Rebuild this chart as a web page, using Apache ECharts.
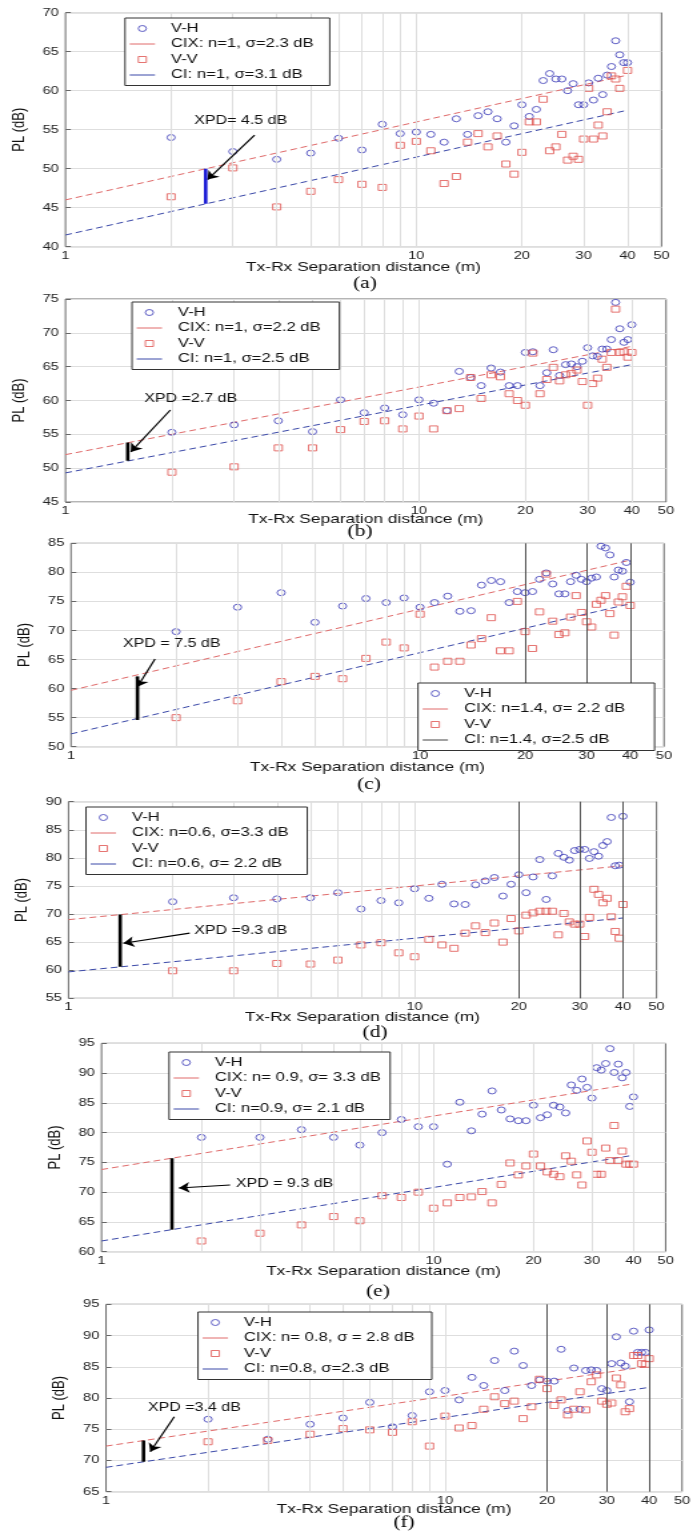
<!DOCTYPE html>
<html><head><meta charset="utf-8">
<script src="https://cdn.jsdelivr.net/npm/echarts@6/dist/echarts.min.js"></script>
<style>
html,body{margin:0;padding:0;background:#fff;overflow:hidden;}
#wrap{width:693px;height:1536px;overflow:hidden;position:relative;background:#fff;}
#chart{width:520px;height:1536px;transform:scaleX(1.3326923);transform-origin:0 0;}
</style></head><body><div id="wrap"><div id="chart"></div></div>
<script>
// ---------- data ----------
const distances = [2,3,4,5,6,7,8,9,10,11,12,13,14,15,16,17,18,19,20,21,22,23,24,25,26,27,28,29,30,31,32,33,34,35,36,37,38,39,40];
const vhA = [54.0,52.2,51.2,52.0,53.9,52.4,55.7,54.5,54.7,54.4,53.4,56.4,54.4,56.8,57.3,56.4,53.4,55.5,58.2,56.7,57.6,61.3,62.2,61.5,61.5,60.0,60.9,58.2,58.2,61.0,58.8,61.6,59.5,62.0,63.1,66.4,64.6,63.6,63.6];
const vvA = [46.4,50.1,45.1,47.1,48.6,48.0,47.6,53.0,53.5,52.3,48.1,49.0,53.4,54.5,52.8,54.2,50.6,49.3,52.1,56.0,56.0,58.9,52.3,52.8,54.4,51.1,51.6,51.2,53.8,60.3,53.8,55.6,54.2,57.3,61.9,61.5,60.3,null,62.6];
const vhB = [55.3,56.4,57.0,55.4,60.1,58.2,58.9,57.9,60.1,59.6,58.5,64.3,63.4,62.2,64.8,64.2,62.2,62.2,67.1,67.2,62.2,64.1,67.5,63.7,65.3,65.4,65.0,65.8,67.8,66.6,66.5,67.6,67.6,69.0,74.5,70.6,68.6,69.0,71.2];
const vvB = [49.4,50.2,53.0,53.0,55.7,56.9,57.0,55.8,57.7,55.8,58.5,58.8,63.4,60.3,63.8,63.5,61.0,60.0,59.3,67.0,61.0,63.1,64.9,62.9,63.8,64.0,64.5,62.8,59.3,62.5,63.3,66.1,64.9,67.1,73.5,67.1,67.2,66.4,67.1];
const vhC = [69.8,74.0,76.5,71.4,74.2,75.5,74.8,75.6,74.0,74.8,75.9,73.3,73.4,77.8,78.6,78.4,74.8,76.7,76.5,76.7,78.8,79.9,78.0,76.3,76.3,78.4,79.5,78.8,78.4,79.0,79.2,84.5,84.2,83.0,79.2,80.4,80.2,81.7,78.3];
const vvC = [55.0,57.9,61.2,62.1,61.7,65.2,68.0,67.0,72.8,63.7,64.7,64.7,67.5,68.6,72.2,66.5,66.5,75.0,69.8,66.9,73.2,79.7,71.6,69.3,69.6,72.3,76.0,73.1,71.5,70.6,74.5,75.2,76.0,72.9,69.2,74.9,75.8,77.6,74.3];
const vhD = [72.2,72.9,72.7,72.9,73.8,70.9,72.4,72.0,74.5,72.8,75.3,71.8,71.7,75.2,75.9,76.5,73.2,75.3,77.0,73.8,76.6,79.7,72.6,76.8,80.8,80.1,79.6,81.3,81.5,81.5,79.9,81.1,80.3,82.2,82.9,87.2,78.6,78.7,87.4];
const vvD = [59.9,59.9,61.2,61.1,61.8,64.5,64.9,63.1,62.4,65.5,64.5,63.9,66.6,67.9,66.7,68.4,65.0,69.2,67.0,69.8,70.2,70.5,70.5,70.5,66.3,70.1,68.6,68.2,68.2,66.0,69.4,74.4,73.5,72.0,72.8,69.5,66.9,65.7,71.7];
const vhE = [79.2,79.2,80.5,79.2,77.9,80.0,82.2,81.0,81.0,74.7,85.1,80.3,83.1,87.0,83.8,82.3,82.0,82.0,84.6,82.5,83.0,84.6,84.3,83.3,88.0,87.1,89.0,87.6,85.8,90.9,90.5,91.6,94.1,90.1,91.5,89.2,90.1,84.4,86.0];
const vvE = [61.8,63.1,64.5,65.9,65.2,69.4,69.1,70.0,67.3,68.2,69.1,69.2,70.1,68.2,71.3,74.9,72.9,74.4,76.4,74.4,73.4,73.0,72.6,76.1,75.2,72.9,71.2,78.6,76.7,73.0,73.0,77.4,75.3,81.2,75.3,76.9,74.7,74.7,74.7];
const vhF = [76.6,73.4,75.8,76.8,79.3,75.4,77.2,81.0,81.2,79.7,83.3,82.0,86.0,81.2,87.5,85.2,82.0,82.9,82.7,82.7,87.8,78.0,84.8,78.2,84.4,84.5,84.4,81.5,81.2,85.5,89.8,85.6,85.1,79.4,90.7,87.3,87.3,87.3,90.9];
const vvF = [73.0,73.2,74.2,75.1,74.9,74.5,76.2,72.3,77.1,75.2,75.6,78.2,80.2,79.1,79.5,76.7,78.6,83.0,81.5,78.8,79.7,77.3,78.2,81.0,78.1,82.6,83.7,79.5,79.0,79.2,83.2,82.1,77.8,78.3,86.8,86.8,85.5,85.4,86.3];

const lineEndDist = [1, 40];
const cixEnds = [[46.0,62.0],[52.0,68.0],[59.7,82.1],[69.0,78.6],[73.8,88.2],[72.3,85.1]];
const ciEnds  = [[41.5,57.5],[49.3,65.3],[52.2,74.6],[59.7,69.3],[61.8,76.2],[68.9,81.7]];
const cixNames = ['CIX: n=1, σ=2.3 dB','CIX: n=1, σ=2.2 dB','CIX: n=1.4, σ= 2.2 dB','CIX: n=0.6, σ=3.3 dB','CIX: n= 0.9, σ= 3.3 dB','CIX: n= 0.8, σ = 2.8 dB'];
const ciNames  = ['CI: n=1, σ=3.1 dB','CI: n=1, σ=2.5 dB','CI: n=1.4, σ=2.5 dB','CI: n=0.6, σ= 2.2 dB','CI: n=0.9, σ= 2.1 dB','CI: n=0.8, σ=2.3 dB'];
const xpdLabels = ['XPD= 4.5 dB','XPD =2.7 dB','XPD = 7.5 dB','XPD =9.3 dB','XPD = 9.3 dB','XPD =3.4 dB'];
const xpdLabelAt = [[2.33,56.2],[1.67,60.2],[1.41,67.7],[2.31,67.0],[2.54,71.4],[1.33,78.4]];
const xpdBarD = [2.51,1.5,1.55,1.41,1.63,1.29];
const xpdBarPL = [[45.5,50.0],[51.1,53.8],[54.6,62.1],[60.6,69.9],[63.7,75.7],[69.8,73.2]];
const arrowFrom = [[3.46,54.3],[1.98,58.6],[1.74,65.1],[2.24,66.6],[2.44,71.2],[1.59,77.0]];
const arrowTo   = [[2.54,48.6],[1.53,52.4],[1.55,60.3],[1.44,64.8],[1.71,70.7],[1.35,71.4]];
const yMin = [40,45,50,55,60,65];
const yMax = [70,75,85,90,95,95];
const xTickLabels = [1,10,20,30,40,50];
const xGridValues = [2,3,4,5,6,7,8,9,10,20,30,40];
const captions = ['(a)','(b)','(c)','(d)','(e)','(f)'];
const vhAll = [vhA,vhB,vhC,vhD,vhE,vhF];
const vvAll = [vvA,vvB,vvC,vvD,vvE,vvF];

// ---------- layout (true pixel positions, page is stretched horizontally) ----------
const S = 693/520;
const layout = [
  {L:65,   R:661.5, T:12.7,   B:246.7,  xName:21, yGap:23, leg:[125,18],   cap:[365,284],    darkGrid:false},
  {L:65,   R:666,   T:299,    B:502,    xName:17, yGap:23, leg:[132,302],  cap:[360,532],    darkGrid:false},
  {L:71,   R:664,   T:543.3,  B:746.7,  xName:21, yGap:25, leg:[418,683],  cap:[369,785],    darkGrid:true},
  {L:68.5, R:656.5, T:801.7,  B:998.3,  xName:19, yGap:23, leg:[86,807],   cap:[375,1033],   darkGrid:true},
  {L:101.5,R:665.6, T:1043.3, B:1251.7, xName:20, yGap:23, leg:[169,1052], cap:[378,1291.5], darkGrid:false},
  {L:106,  R:682,   T:1304.3, B:1491.7, xName:18, yGap:23, leg:[198,1312], cap:[404,1523],   darkGrid:true}
];
const legendPadRight = [12, 14, 22, 14, 7, 13];
const FONT = '"Liberation Sans", Arial, Helvetica, sans-serif';
const C_VH = '#3b3bb8', C_VV = '#e0524f', C_CIX = '#e06a6a', C_CI = '#3a48a8';
const ICON_CIRCLE = 'path://M10,5A5,5,0,1,1,0,5A5,5,0,1,1,10,5Z';
const ICON_SQUARE = 'path://M0,0L10,0L10,10L0,10Z';
const NOFILL = 'rgba(255,255,255,0)';

const grids = [], xAxes = [], yAxes = [], series = [], legends = [], graphics = [];
layout.forEach((l, i) => {
  grids.push({left: l.L/S, width: (l.R-l.L)/S, top: l.T, height: l.B-l.T, show: true,
    borderColor: '#6a6a6a', borderWidth: 1, backgroundColor: '#fff'});
  xAxes.push({type: 'log', logBase: 10, gridIndex: i, min: 1, max: 50,
    name: 'Tx-Rx Separation distance (m)', nameLocation: 'middle', nameGap: l.xName - 6.5,
    nameTextStyle: {fontSize: 13, color: '#111', fontFamily: FONT},
    axisLine: {show: false}, axisTick: {show: false}, axisLabel: {show: false}, splitLine: {show: false}});
  yAxes.push({type: 'value', gridIndex: i, min: yMin[i], max: yMax[i], interval: 5,
    name: 'PL (dB)', nameLocation: 'middle', nameGap: l.yGap,
    nameTextStyle: {fontSize: 13, color: '#111', fontFamily: FONT},
    axisLine: {show: false}, axisTick: {show: true, inside: true, length: 4, lineStyle: {color: '#666'}},
    axisLabel: {fontSize: 11, color: '#222', margin: 5, fontFamily: FONT},
    splitLine: {show: true, lineStyle: {color: '#dedede', width: 1}}});

  const gridLines = xGridValues.map(v => ({xAxis: v,
    lineStyle: {color: (l.darkGrid && v >= 20) ? '#555' : '#dedede', width: 1, type: 'solid'},
    label: {show: false}}));
  const tickLabels = xTickLabels.map(v => ({xAxis: v,
    lineStyle: {color: 'rgba(0,0,0,0)', width: 1, type: 'solid'},
    label: {show: true, position: 'start', distance: 3.5, formatter: String(v), fontSize: 11, color: '#222', fontFamily: FONT}}));
  series.push({type: 'line', name: 'grid' + i, xAxisIndex: i, yAxisIndex: i, z: 1, silent: true,
    data: [[1, yMin[i]]], symbol: 'none', lineStyle: {color: NOFILL, width: 0},
    markLine: {silent: true, symbol: 'none', animation: false, data: gridLines.concat(tickLabels)}});

  series.push({type: 'line', name: cixNames[i], xAxisIndex: i, yAxisIndex: i, z: 3, silent: true,
    data: lineEndDist.map((d, k) => [d, cixEnds[i][k]]), symbol: 'none',
    lineStyle: {color: C_CIX, width: 1, type: [5, 3]}, itemStyle: {color: C_CIX}});
  series.push({type: 'line', name: ciNames[i], xAxisIndex: i, yAxisIndex: i, z: 3, silent: true,
    data: lineEndDist.map((d, k) => [d, ciEnds[i][k]]), symbol: 'none',
    lineStyle: {color: C_CI, width: 1, type: [5, 3]}, itemStyle: {color: i === 2 ? '#444' : C_CI}});

  series.push({type: 'scatter', name: 'V-H|' + i, xAxisIndex: i, yAxisIndex: i, z: 4, silent: true,
    data: distances.map((d, k) => [d, vhAll[i][k]]).filter(p => p[1] != null),
    symbol: 'circle', symbolSize: 6,
    itemStyle: {color: NOFILL, borderColor: C_VH, borderWidth: 1}});
  series.push({type: 'scatter', name: 'V-V|' + i, xAxisIndex: i, yAxisIndex: i, z: 4, silent: true,
    data: distances.map((d, k) => [d, vvAll[i][k]]).filter(p => p[1] != null),
    symbol: 'rect', symbolSize: 6,
    itemStyle: {color: NOFILL, borderColor: C_VV, borderWidth: 1}});

  series.push({type: 'line', name: 'xpd' + i, xAxisIndex: i, yAxisIndex: i, z: 5, silent: true,
    data: [[xpdBarD[i], xpdBarPL[i][0]], [xpdBarD[i], xpdBarPL[i][1]]], symbol: 'none',
    lineStyle: {color: i === 0 ? '#1a1ad6' : '#000', width: 2.6},
    markLine: {silent: true, animation: false, symbol: ['none', 'arrow'], symbolSize: 8,
      lineStyle: {color: '#000', width: 1.2, type: 'solid'}, label: {show: false},
      data: [[{coord: arrowFrom[i]}, {coord: arrowTo[i]}]]},
    markPoint: {silent: true, animation: false, symbol: 'circle', symbolSize: 0,
      data: [{coord: xpdLabelAt[i]}],
      label: {show: true, position: 'right', distance: 0, formatter: xpdLabels[i], fontSize: 12, color: '#111', fontFamily: FONT}}});

  legends.push({orient: 'vertical', left: l.leg[0]/S, top: l.leg[1], selectedMode: false,
    backgroundColor: '#fff', borderColor: '#333', borderWidth: 1, padding: [4, legendPadRight[i], 4, 3],
    itemWidth: 19, itemHeight: 6, itemGap: 2.5, z: 10,
    formatter: n => n.split('|')[0],
    textStyle: {fontSize: 12.5, color: '#111', fontFamily: FONT, lineHeight: 12.5, padding: [0, 0, 0, 7]},
    data: [
      {name: 'V-H|' + i, icon: ICON_CIRCLE, itemStyle: {color: NOFILL, borderColor: C_VH, borderWidth: 1}},
      {name: cixNames[i], lineStyle: {type: 'solid', color: C_CIX, width: 1}, itemStyle: {color: NOFILL, borderWidth: 0, opacity: 0}},
      {name: 'V-V|' + i, icon: ICON_SQUARE, itemStyle: {color: NOFILL, borderColor: C_VV, borderWidth: 1}},
      {name: ciNames[i], lineStyle: {type: 'solid', color: i === 2 ? '#444' : C_CI, width: 1}, itemStyle: {color: NOFILL, borderWidth: 0, opacity: 0}}
    ]});

  graphics.push({type: 'text', x: l.cap[0]/S, y: l.cap[1], z: 10,
    style: {text: captions[i], fontSize: 16, fontFamily: '"Liberation Serif", "Times New Roman", serif',
      fill: '#000', textAlign: 'center', textVerticalAlign: 'middle'}});
});

const chart = echarts.init(document.getElementById('chart'), null, {width: 520, height: 1536, renderer: 'canvas'});
chart.setOption({
  animation: false,
  backgroundColor: '#fff',
  grid: grids, xAxis: xAxes, yAxis: yAxes, series: series, legend: legends, graphic: graphics
});
</script></body></html>
